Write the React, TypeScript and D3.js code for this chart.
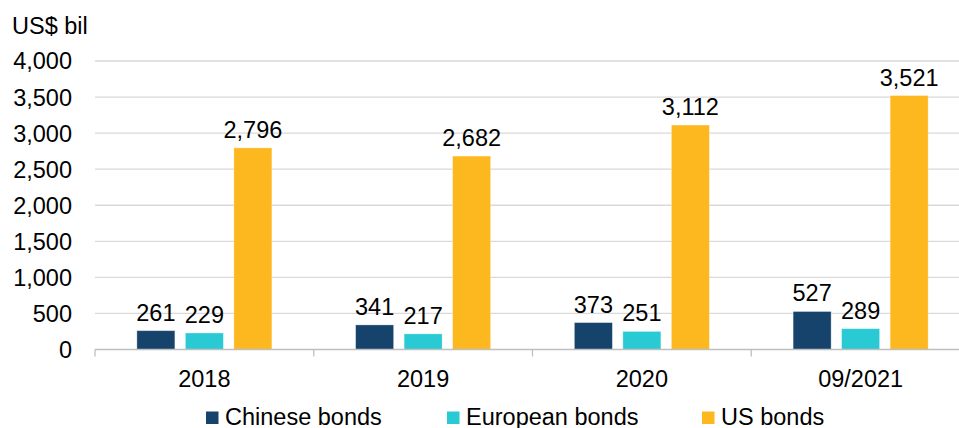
import React from "react";
import * as d3 from "d3";

const categories = ["2018", "2019", "2020", "09/2021"];
const seriesNames = ["Chinese bonds", "European bonds", "US bonds"];
const chineseBonds = [261, 341, 373, 527];
const europeanBonds = [229, 217, 251, 289];
const usBonds = [2796, 2682, 3112, 3521];
const yTicks = [0, 500, 1000, 1500, 2000, 2500, 3000, 3500, 4000];
const colors = ["#16436b", "#29cad4", "#fdb71f"];

const W = 959;
const H = 428;
const left = 95;
const right = 970;
const top = 61;
const bottom = 349.5;
const font = "'Liberation Sans', Arial, sans-serif";
const fs = 23.5;

export default function App() {
  const series = [chineseBonds, europeanBonds, usBonds];
  const x = d3.scaleBand<string>().domain(categories).range([left, right]).paddingInner(0).paddingOuter(0);
  const y = d3.scaleLinear().domain([0, 4000]).range([bottom, top]);
  const barW = 38;
  const step = 48.5;
  const fmt = d3.format(",");

  return (
    <svg width={W} height={H} style={{ position: "absolute", left: 0, top: 0, fontFamily: font }}>
      <rect width={W} height={H} fill="#ffffff" />
      <text x={12} y={34} fontSize={fs} fill="#000">US$ bil</text>
      {yTicks.map((t) => (
        <g key={t}>
          {t > 0 && (
            <line x1={left} x2={right} y1={y(t)} y2={y(t)} stroke="#d9d9d9" strokeWidth={1.3} />
          )}
          <text x={72} y={y(t)} dy="0.36em" textAnchor="end" fontSize={fs} fill="#000">
            {fmt(t)}
          </text>
        </g>
      ))}
      {categories.map((c, ci) => {
        const cx = (x(c) as number) + x.bandwidth() / 2;
        return (
          <g key={c}>
            {series.map((s, si) => {
              const bx = cx + (si - 1) * step - barW / 2;
              const v = s[ci];
              return (
                <g key={si}>
                  <rect
                    x={bx}
                    y={y(v)}
                    width={barW}
                    height={bottom - y(v)}
                    fill={colors[si]}
                    stroke="#ffffff"
                    strokeOpacity={0.4}
                    strokeWidth={0.8}
                  />
                  <text x={bx + barW / 2} y={y(v) - 10} textAnchor="middle" fontSize={fs} fill="#000">
                    {fmt(v)}
                  </text>
                </g>
              );
            })}
            <text x={cx} y={387} textAnchor="middle" fontSize={fs} fill="#000">
              {c}
            </text>
          </g>
        );
      })}
      <line x1={left} x2={right} y1={bottom} y2={bottom} stroke="#bfbfbf" strokeWidth={1.5} />
      {[...categories.map((c) => x(c) as number), right].map((tx, i) => (
        <line key={i} x1={tx} x2={tx} y1={bottom} y2={bottom + 7} stroke="#bfbfbf" strokeWidth={1.3} />
      ))}
      {seriesNames.map((n, i) => {
        const lx = [206, 447, 702][i];
        return (
          <g key={n}>
            <rect x={lx} y={411.5} width={12.5} height={12.5} fill={colors[i]} />
            <text x={lx + 19} y={425} fontSize={fs} fill="#000">
              {n}
            </text>
          </g>
        );
      })}
    </svg>
  );
}
